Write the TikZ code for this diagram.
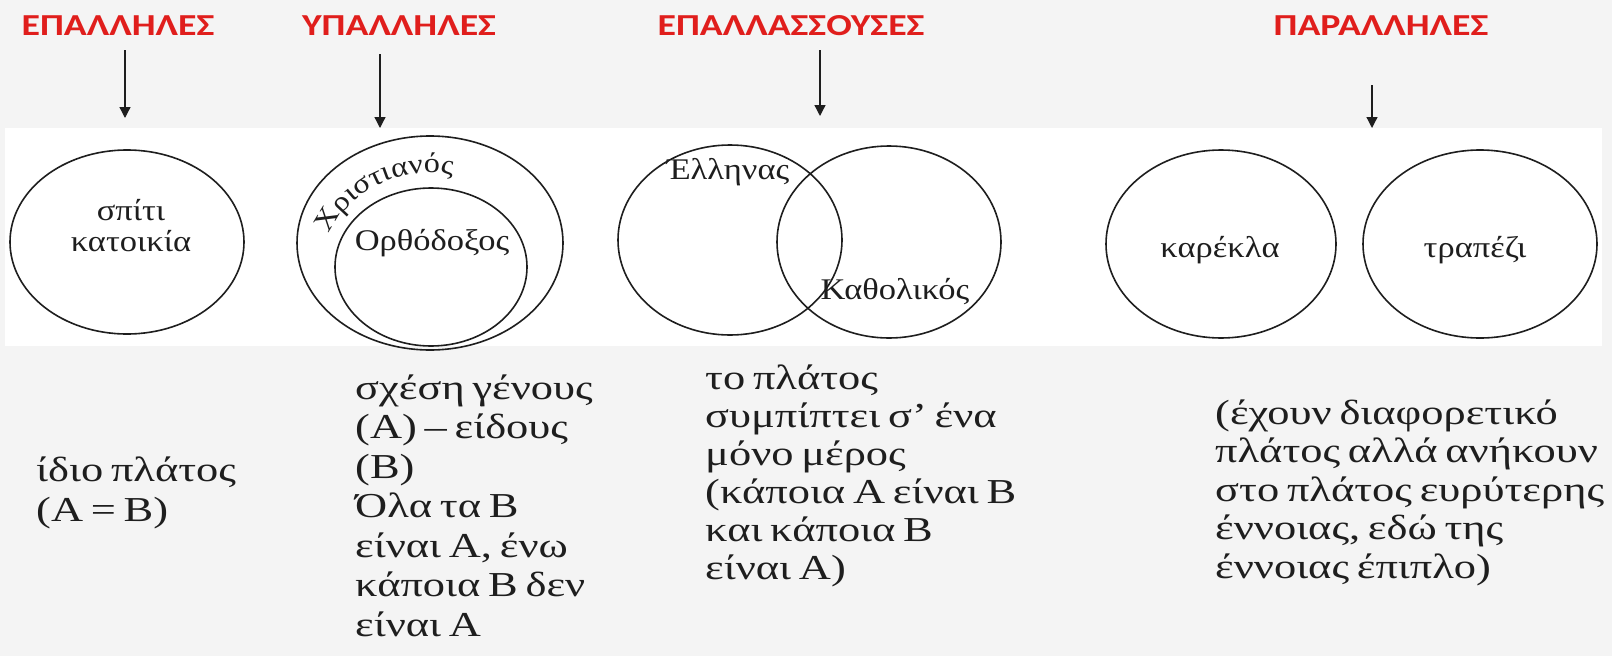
\documentclass[tikz,border=0pt]{standalone}
\usepackage{fontspec}
\setmainfont{Liberation Serif}
\newfontfamily\headfont[FakeStretch=1.24]{Carlito}
\newfontfamily\bodyfont[FakeStretch=1.27,WordSpace=0.7]{Liberation Serif}
\newfontfamily\vennfont[FakeStretch=1.15]{Liberation Serif}
\usetikzlibrary{arrows.meta,shapes.geometric,decorations.text}
\definecolor{headred}{RGB}{224,30,28}
\definecolor{bandgray}{RGB}{244,244,244}
\definecolor{ink}{RGB}{30,30,30}
\begin{document}
\begin{tikzpicture}[x=1pt,y=-1pt,
  head/.style={font=\headfont\bfseries\fontsize{30.5}{30.5}\selectfont, text=headred, inner sep=0pt},
  arr/.style={-{Triangle[length=11pt,width=11pt]}, line width=1.3pt, draw=ink},
  venn/.style={ellipse, draw=ink, line width=1.6pt, inner sep=0pt},
  vlab/.style={font=\vennfont\fontsize{30}{31}\selectfont, text=ink, inner sep=0pt, align=center},
  body/.style={font=\bodyfont\fontsize{35}{39.5}\selectfont, text=ink, inner sep=0pt, align=left, anchor=base west}]
\useasboundingbox (0,0) rectangle (1612,656);
\fill[bandgray] (0,0) rectangle (1612,656);
\fill[white] (5,128) rectangle (1602,346);

% headings
\node[head] (h1) at (118,26) {ΕΠΑΛΛΗΛΕΣ};
\node[head] (h2) at (399,26) {ΥΠΑΛΛΗΛΕΣ};
\node[head] (h3) at (791,26) {ΕΠΑΛΛΑΣΣΟΥΣΕΣ};
\node[head] (h4) at (1381,26) {ΠΑΡΑΛΛΗΛΕΣ};

% arrows
\coordinate (a1s) at (125,50);  \coordinate (a1e) at (125,118);
\coordinate (a2s) at (380,54);  \coordinate (a2e) at (380,128);
\coordinate (a3s) at (820,50);  \coordinate (a3e) at (820,116);
\coordinate (a4s) at (1372,85); \coordinate (a4e) at (1372,128);
\draw[arr] (a1s) -- (a1e);
\draw[arr] (a2s) -- (a2e);
\draw[arr] (a3s) -- (a3e);
\draw[arr] (a4s) -- (a4e);

% circles
\node[venn, minimum width=234pt, minimum height=184pt] (c1) at (127,242) {};
\node[venn, minimum width=266pt, minimum height=214pt] (c2o) at (430,243) {};
\node[venn, minimum width=192pt, minimum height=158pt] (c2i) at (431,267) {};
\node[venn, minimum width=224pt, minimum height=190pt] (c3a) at (730,240) {};
\node[venn, minimum width=224pt, minimum height=192pt] (c3b) at (889,242) {};
\node[venn, minimum width=230pt, minimum height=188pt] (c4a) at (1221,244) {};
\node[venn, minimum width=234pt, minimum height=188pt] (c4b) at (1480,244) {};

% circle labels
\node[vlab] (t1) at (131,226) {σπίτι\\κατοικία};
\node[vlab] (t2) at (432,243) {Ορθόδοξος};
\path[decorate, decoration={text along path, text align=center,
  text={|\vennfont\fontsize{28}{28}\selectfont\color{ink}|Χριστιανός}}]
  (323.7,253.9) arc[start angle=-172, end angle=-68, x radius=109, y radius=94];
\node[vlab] (t3) at (728,172) {Έλληνας};
\node[vlab] (t4) at (895,292) {Καθολικός};
\node[vlab] (t5) at (1220,250) {καρέκλα};
\node[vlab] (t6) at (1475,250) {τραπέζι};

% descriptions (anchor = baseline of the last line)
\node[body] (d1) at (36,521) {ίδιο πλάτος\\(Α = Β)};
\node[body] (d2) at (355,636) {σχέση γένους\\(Α) – είδους\\(Β)\\Όλα τα Β\\είναι Α, ένω\\κάποια Β δεν\\είναι Α};
\node[body, font=\bodyfont\fontsize{35}{38}\selectfont] (d3) at (705,579) {το πλάτος\\συμπίπτει σ’ ένα\\μόνο μέρος\\(κάποια Α είναι Β\\και κάποια Β\\είναι Α)};
\node[body, font=\bodyfont\fontsize{35}{38.5}\selectfont] (d4) at (1215,578) {(έχουν διαφορετικό\\πλάτος αλλά ανήκουν\\στο πλάτος ευρύτερης\\έννοιας, εδώ της\\έννοιας έπιπλο)};
\end{tikzpicture}
\end{document}
